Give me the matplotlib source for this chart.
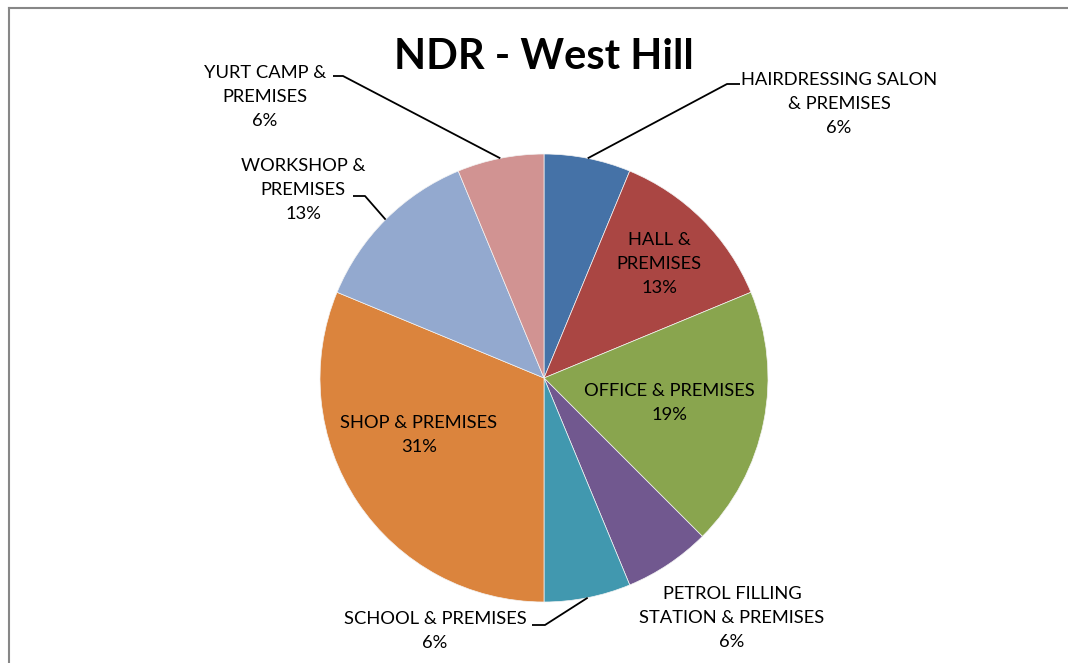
import numpy as np
import matplotlib.pyplot as plt

# NDR - West Hill: property counts (16 in total)
categories = ['HAIRDRESSING SALON\n& PREMISES', 'HALL &\nPREMISES', 'OFFICE & PREMISES',
              'PETROL FILLING\nSTATION & PREMISES', 'SCHOOL & PREMISES', 'SHOP & PREMISES',
              'WORKSHOP &\nPREMISES', 'YURT CAMP &\nPREMISES']
counts = [1, 2, 3, 1, 1, 5, 2, 1]
colors = ['#4572A7', '#AA4643', '#89A54E', '#71588F', '#4198AF', '#DB843D', '#93A9CF', '#D19392']

W, H = 1068, 663
CX, CY, R = 544, 378, 224  # pie centre / radius in pixels

fig = plt.figure(figsize=(W / 100, H / 100), dpi=100)
ax = fig.add_axes([0, 0, 1, 1])

def px(x, y):
    # pixel position -> data coords
    return (x - CX) / R, (CY - y) / R

wedges, _ = ax.pie(counts, colors=colors, startangle=90, counterclock=False, radius=1,
                   wedgeprops=dict(edgecolor='#f4f4f4', linewidth=0.5))
ax.set_xlim(-CX / R, (W - CX) / R)
ax.set_ylim(-(H - CY) / R, CY / R)
ax.set_aspect('equal')
ax.axis('off')

font = 'Lato'
fs = 13.2
total = sum(counts)
pct = ['{:.0f}%'.format(np.floor(c / total * 100 + 0.5)) for c in counts]

# label centre positions (pixels), and leader line elbows
label_pos = [(839, 104), (659, 264), (669, 403), (732, 618),
             (435, 631), (419, 435), (303, 190), (265, 97)]
leaders = {0: [(727, 84), (740, 84)], 4: [(545, 625), (532, 625)],
           6: [(365, 196), (353, 196)], 7: [(343, 76), (333, 76)]}

for i, w in enumerate(wedges):
    x, y = px(*label_pos[i])
    ax.text(x, y, categories[i] + '\n' + pct[i], ha='center', va='center',
            fontsize=fs, family=font, color='black', linespacing=1.64)
    if i in leaders:
        mid = np.deg2rad((w.theta1 + w.theta2) / 2)
        pts = [(np.cos(mid), np.sin(mid))] + [px(*p) for p in leaders[i]]
        xs, ys = zip(*pts)
        ax.plot(xs, ys, color='black', lw=1.3, solid_capstyle='butt')

fig.text(544 / W, 1 - 57 / H, 'NDR - West Hill', ha='center', va='center',
         fontsize=30, fontweight='bold', family=font)

# chart frame (only left and top edges are visible)
fig.add_artist(plt.Line2D([8.5 / W, 8.5 / W], [0, 1 - 7.5 / H], color='#878787', lw=1.5))
fig.add_artist(plt.Line2D([8.5 / W, 1], [1 - 7.5 / H, 1 - 7.5 / H], color='#878787', lw=1.5))

fig.savefig('out.png', dpi=100, facecolor='white')
